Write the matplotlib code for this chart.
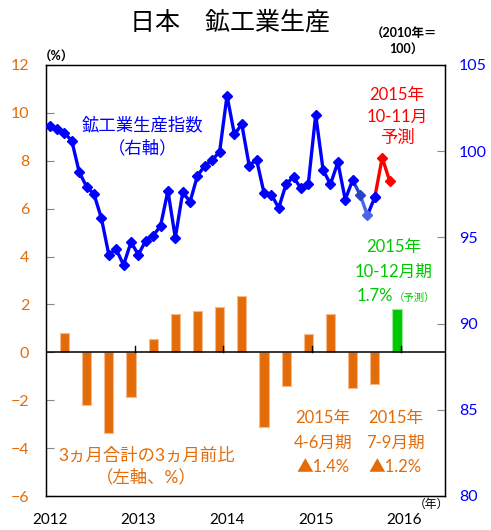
import matplotlib
matplotlib.use("Agg")
import matplotlib.pyplot as plt

plt.rcParams['font.family'] = ['Lato', 'Noto Sans CJK JP', 'DejaVu Sans']

# ---- data ----
years = ['2012', '2013', '2014', '2015', '2016']
# monthly index (2010=100), Jan 2012 .. Sep 2015 (actual), Oct-Nov 2015 forecast
index_actual = [101.48, 101.27, 101.07, 100.59, 98.78, 97.94, 97.50, 96.11, 94.00, 94.31,
                93.40, 94.72, 94.00, 94.81, 95.10, 95.66, 97.71, 94.97, 97.62, 97.07,
                98.58, 99.16, 99.49, 99.97, 103.22, 100.98, 101.56, 99.16, 99.51, 97.59,
                97.48, 96.71, 98.10, 98.50, 97.84, 98.10, 102.12, 98.91, 98.08, 99.36,
                97.19, 98.33, 97.48, 96.28, 97.33]
index_forecast = [99.62, 98.29]
# quarterly 3-month/3-month change (%), Q1 2012 .. Q3 2015, Q4 2015 forecast
qoq_actual = [0.82, -2.21, -3.37, -1.88, 0.57, 1.62, 1.74, 1.88, 2.37, -3.13,
              -1.42, 0.78, 1.59, -1.50, -1.32]
qoq_forecast = [1.80]

ORANGE = '#E36C09'
BLUE = '#0000FF'
RED = '#FF0000'
GREEN = '#00C800'

W, H = 491, 530
fig = plt.figure(figsize=(W / 100, H / 100), dpi=100)
L, R, T, B = 46, 445, 65, 496
ax = fig.add_axes([L / W, 1 - B / H, (R - L) / W, (B - T) / H])
ax2 = ax.twinx()

# bars (left axis)
n_act = len(qoq_actual)
bx = [3 * i + 2.5 for i in range(n_act)]
ax.bar(bx, qoq_actual, width=1.25, color=ORANGE, edgecolor='#F6B98A', linewidth=0.8, zorder=2)
bxf = [3 * (n_act + i) + 2.5 for i in range(len(qoq_forecast))]
ax.bar(bxf, qoq_forecast, width=1.25, color=GREEN, edgecolor='#9BE89B', linewidth=0.8, zorder=2)
ax.axhline(0, color='black', lw=1.1, zorder=3)
for k in range(1, len(years)):
    ax.plot([12 * k, 12 * k], [0, 0.25], color='black', lw=1, zorder=3)

ax.set_xlim(0, 54)
ax.set_ylim(-6, 12)
ax.set_yticks(range(-6, 13, 2))
ax.set_xticks([12 * k + 0.5 for k in range(len(years))])
ax.set_xticklabels(years, fontsize=11)
ax.tick_params(axis='x', length=0, pad=12)
ax.tick_params(axis='y', direction='in', length=6, color='#888888', labelcolor=ORANGE,
               labelsize=11.5, pad=12)
for s in ax.spines.values():
    s.set_color('black')
    s.set_linewidth(1)

# line (right axis)
n = len(index_actual)
xs = [i + 0.5 for i in range(n)]
ax2.plot(xs[:42], index_actual[:42], color=BLUE, lw=2.4, marker='D', ms=5.5, zorder=5)
ax2.plot(xs[41:43], index_actual[41:43], color='#2844C4', lw=2.4, zorder=4)
ax2.plot(xs[42:44], index_actual[42:44], color='#4A66E6', lw=2.4, zorder=4)
ax2.plot(xs[43:45], index_actual[43:45], color=BLUE, lw=2.4, zorder=4)
ax2.plot(xs[42:43], index_actual[42:43], color='#2844C4', lw=0, marker='D', ms=5.5, zorder=6)
ax2.plot(xs[43:44], index_actual[43:44], color='#4A66E6', lw=0, marker='D', ms=5.5, zorder=6)
ax2.plot(xs[44:45], index_actual[44:45], color=BLUE, lw=0, marker='D', ms=5.5, zorder=6)
xf = [xs[-1]] + [n + i + 0.5 for i in range(len(index_forecast))]
yf = [index_actual[-1]] + index_forecast
ax2.plot(xf, yf, color=RED, lw=2.4, zorder=5)
ax2.plot(xf[1:], yf[1:], color=RED, lw=0, marker='D', ms=5.5, zorder=6)
ax2.plot(xs[-1:], index_actual[-1:], color=BLUE, lw=0, marker='D', ms=5.5, zorder=7)
ax2.set_ylim(80, 105)
ax2.set_yticks(range(80, 106, 5))
ax2.tick_params(axis='y', direction='in', length=6, color='#888888', labelcolor=BLUE,
                labelsize=11.5, pad=10)

# annotations (data coords of left axis)
def t(x, y, s, c, fs=12, **kw):
    ax.text(x, y, s, color=c, fontsize=fs, ha='center', va='center', zorder=8, **kw)

t(13.1, 9.48, '鉱工業生産指数', BLUE, 12.5)
t(13.1, 8.52, '（右軸）', BLUE, 12.5)
t(47.5, 10.73, '2015年', RED, 12)
t(47.5, 9.82, '10-11月', RED, 12)
t(47.5, 8.94, '予測', RED, 12.5)
t(47.0, 4.39, '2015年', GREEN, 12)
t(47.0, 3.34, '10-12月期', GREEN, 12)
ax.text(47.0, 2.13, '1.7%', color=GREEN, fontsize=12, ha='right', va='baseline', zorder=8)
ax.text(47.0, 2.13, '（予測）', color=GREEN, fontsize=7.5, ha='left', va='baseline', zorder=8)
t(13.6, -4.30, '3ヵ月合計の3ヵ月前比', ORANGE, 12.5)
t(13.6, -5.22, '（左軸、%）', ORANGE, 12.5)
t(37.5, -2.76, '2015年', ORANGE, 12)
t(37.5, -3.76, '4-6月期', ORANGE, 12)
t(37.5, -4.80, '▲1.4%', ORANGE, 12)
t(47.3, -2.76, '2015年', ORANGE, 12)
t(47.3, -3.76, '7-9月期', ORANGE, 12)
t(47.3, -4.80, '▲1.2%', ORANGE, 12)

# figure texts
def ft(px, py, s, fs, **kw):
    fig.text(px / W, 1 - py / H, s, fontsize=fs, ha='center', va='center', **kw)

ft(230, 22, '日本　鉱工業生産', 18, family=['Noto Sans CJK JP'])
ft(56, 57, '（%）', 9, weight='bold')
ft(404, 34, '（2010年＝', 9, weight='bold')
ft(406, 50, '100）', 9, weight='bold')
ft(431, 504, '（年）', 8.5)

fig.savefig('out.png', dpi=100)
